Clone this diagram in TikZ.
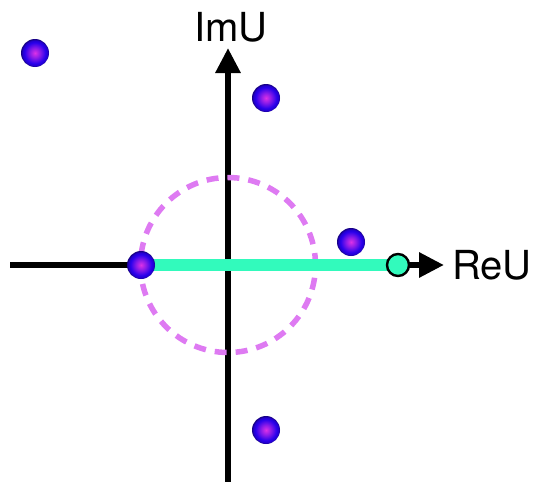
\documentclass[tikz,border=0pt]{standalone}
\usepackage{fontspec}
\setmainfont{TeX Gyre Heros}
\usetikzlibrary{arrows.meta}

\definecolor{cutteal}{RGB}{50,250,188}
\definecolor{unitviolet}{RGB}{222,122,242}
\definecolor{poleblue}{RGB}{40,0,235}
\definecolor{polenavy}{RGB}{20,0,120}
\definecolor{polepink}{RGB}{220,50,230}
\pgfdeclareradialshading{poleball}{\pgfpoint{0bp}{0bp}}{%
  color(0bp)=(polepink); color(9bp)=(polepink!55!poleblue); color(19bp)=(poleblue);
  color(23bp)=(poleblue!70!polenavy); color(25bp)=(polenavy); color(50bp)=(polenavy)}

\begin{document}
\begin{tikzpicture}[
  x=1pt, y=-1pt,
  >={Triangle[length=25pt,width=24pt]},
  every node/.style={font=\fontsize{40}{40}\selectfont},
  axis/.style   = {line width=6pt, black},
  cutline/.style= {line width=12pt, cutteal},
  unitc/.style  = {line width=5.5pt, unitviolet, dash pattern=on 12pt off 9pt},
  pole/.style   = {circle, minimum size=28pt, inner sep=0pt, shade, shading=poleball},
  endpt/.style  = {circle, minimum size=22pt, inner sep=0pt, draw=black, line width=2.4pt, fill=cutteal},
]
  \useasboundingbox (0,0) rectangle (536,482);
  % axes and branch cut
  \coordinate (O)      at (228,265);
  \coordinate (ybot)   at (228,482);
  \coordinate (ytop)   at (228,48);
  \coordinate (xleft)  at (10,265);
  \coordinate (xright) at (444,265);
  \coordinate (cut)    at (141,265);
  \coordinate (tail)   at (398,265);

  \draw[axis, ->] (ybot) -- (ytop);
  \draw[axis] (xleft) -- (cut);
  \draw[axis, ->] (tail) -- (xright);
  \draw[unitc] (O) circle (87.5pt);
  \draw[cutline] (cut) -- (tail);

  % poles
  \node[pole]  (p1) at (35,53)  {};
  \node[pole]  (p2) at (266,98) {};
  \node[pole]  (p3) at (351,242) {};
  \node[pole]  (p4) at (cut)    {};
  \node[pole]  (p5) at (266,430) {};
  \node[endpt] (e)  at (tail)   {};

  \node (imlab) at (231,27) {ImU};
  \node[anchor=west, inner sep=0pt] (relab) at (452,265) {ReU};
\end{tikzpicture}
\end{document}
